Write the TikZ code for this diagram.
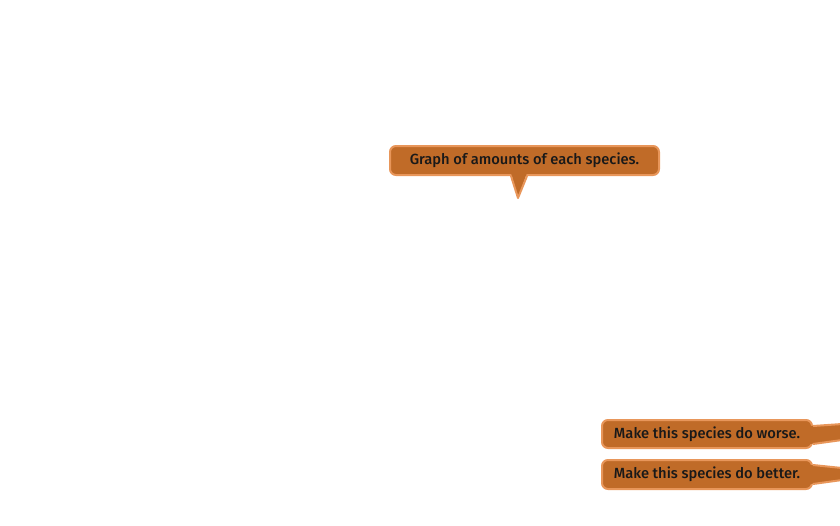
\documentclass[tikz,border=0pt]{standalone}
\usepackage{fontspec}
\setmainfont{Fira Sans}[UprightFont={* Medium}]
\usetikzlibrary{calc}
\definecolor{calloutfill}{HTML}{C06B28}
\definecolor{calloutedge}{HTML}{E8965A}
\tikzset{
	callout/.style={draw=calloutedge, fill=calloutfill, line width=2pt,
		rounded corners=6pt, inner sep=0pt, anchor=north west,
		text=black!90, font=\fontsize{14.7}{17}\selectfont},
	pointerfill/.style={fill=calloutfill},
	pointeredge/.style={draw=calloutedge, line width=2pt, line join=round}
}
\begin{document}
\begin{tikzpicture}[x=1pt, y=-1pt]
	\useasboundingbox (0,0) rectangle (840,525);
	% Sprechblase oben
	\node[callout, minimum width=269pt, minimum height=29pt] (graphlabel) at (389,145)
		{Graph of amounts of each species.};
	\coordinate (graphtip) at (518,198);
	\path[pointerfill] ($(graphlabel.south west)+(122,-3)$) -- (graphtip)
		-- ($(graphlabel.south west)+(138,-3)$) -- cycle;
	\path[pointeredge] ($(graphlabel.south west)+(122,0)$) -- (graphtip)
		-- ($(graphlabel.south west)+(138,0)$);

	% Sprechblasen rechts unten
	\node[callout, minimum width=210pt, minimum height=28pt] (worselabel) at (601,419)
		{Make this species do worse.};
	\coordinate (worsetop) at (842,424);
	\coordinate (worsebottom) at (842,440);
	\path[pointerfill] ($(worselabel.north east)+(-3,7)$) -- (worsetop)
		-- (worsebottom) -- ($(worselabel.south east)+(-3,-5)$) -- cycle;
	\path[pointeredge] ($(worselabel.north east)+(0,7)$) -- (worsetop);
	\path[pointeredge] ($(worselabel.south east)+(0,-5)$) -- (worsebottom);

	\node[callout, minimum width=210pt, minimum height=29pt] (betterlabel) at (601,459)
		{Make this species do better.};
	\coordinate (bettertop) at (842,468);
	\coordinate (betterbottom) at (842,480);
	\path[pointerfill] ($(betterlabel.north east)+(-3,6)$) -- (bettertop)
		-- (betterbottom) -- ($(betterlabel.south east)+(-3,-6)$) -- cycle;
	\path[pointeredge] ($(betterlabel.north east)+(0,6)$) -- (bettertop);
	\path[pointeredge] ($(betterlabel.south east)+(0,-6)$) -- (betterbottom);
\end{tikzpicture}
\end{document}
